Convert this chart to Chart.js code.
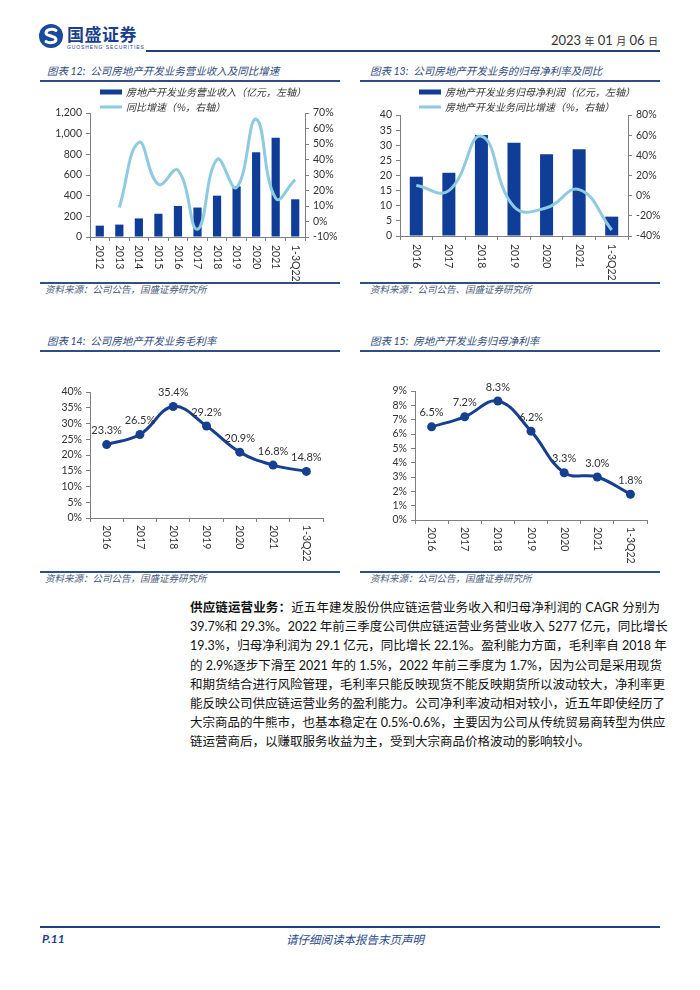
<!DOCTYPE html>
<html><head><meta charset="utf-8">
<script src="https://cdn.jsdelivr.net/npm/chart.js@4.4.1/dist/chart.umd.min.js"></script>
<style>
html,body{margin:0;padding:0;background:#fff;}
body{width:700px;height:990px;position:relative;overflow:hidden;font-family:Lato,"Noto Sans CJK SC",sans-serif;}
.abs{position:absolute;}
.title{font-style:italic;font-size:10.5px;color:#2e4a7d;white-space:nowrap;}
.src{font-style:italic;font-size:9.5px;color:#4a5a78;white-space:nowrap;}
.rule{height:1.5px;background:#2d4f86;}
canvas{position:absolute;}
.para{left:190px;width:470px;font-size:12.5px;color:#111;}
.para div{height:19.2px;line-height:19.2px;text-align:justify;text-align-last:justify;white-space:nowrap;}
.para div.last{text-align-last:left;}
</style></head>
<body>
<!-- header -->
<svg class="abs" style="left:38px;top:23px" width="26" height="26" viewBox="0 0 26 26">
  <circle cx="13" cy="13" r="12" fill="#1a4a9c"/>
  <path d="M18 7.5 C15 5.5 8 6 8 10 C8 13.5 18 12.5 18 16.5 C18 20 11 20.5 8 18.5" stroke="#fff" stroke-width="3" fill="none" stroke-linecap="round"/>
</svg>
<div class="abs" style="left:67px;top:24px;font-size:17px;font-weight:bold;color:#1a3f8c;letter-spacing:0.5px;font-family:'Noto Sans CJK SC';line-height:20px">国盛证券</div>
<div class="abs" style="left:67px;top:44px;font-size:5px;color:#1a3f8c;letter-spacing:0.9px;line-height:6px;font-family:'Liberation Sans'">GUOSHENG SECURITIES</div>
<div class="abs" style="right:42px;top:31px;font-size:13px;color:#333;line-height:18px;white-space:nowrap">2023 <span style="font-size:10px">年</span> 01 <span style="font-size:10px">月</span> 06 <span style="font-size:10px">日</span></div>
<div class="abs" style="left:146px;top:50px;width:514px;height:2px;background:#1f3f7f"></div>

<!-- chart titles / rules -->
<div class="abs title" style="left:47px;top:63px">图表 12:&nbsp; 公司房地产开发业务营业收入及同比增速</div>
<div class="abs rule" style="left:40px;top:80px;width:300px"></div>
<div class="abs title" style="left:370px;top:63px">图表 13:&nbsp; 公司房地产开发业务的归母净利率及同比</div>
<div class="abs rule" style="left:360px;top:80px;width:300px"></div>
<div class="abs rule" style="left:40px;top:282px;width:300px"></div>
<div class="abs src" style="left:45px;top:282px">资料来源：公司公告，国盛证券研究所</div>
<div class="abs rule" style="left:360px;top:282px;width:300px"></div>
<div class="abs src" style="left:370px;top:282px">资料来源：公司公告、国盛证券研究所</div>

<div class="abs title" style="left:47px;top:333px">图表 14:&nbsp; 公司房地产开发业务毛利率</div>
<div class="abs rule" style="left:40px;top:350px;width:300px"></div>
<div class="abs title" style="left:370px;top:333px">图表 15:&nbsp; 房地产开发业务归母净利率</div>
<div class="abs rule" style="left:360px;top:350px;width:300px"></div>
<div class="abs rule" style="left:40px;top:571px;width:300px"></div>
<div class="abs src" style="left:45px;top:571px">资料来源：公司公告，国盛证券研究所</div>
<div class="abs rule" style="left:360px;top:571px;width:300px"></div>
<div class="abs src" style="left:370px;top:571px">资料来源：公司公告，国盛证券研究所</div>

<canvas id="c12" width="300" height="196" style="left:40px;top:85px"></canvas>
<canvas id="c13" width="300" height="196" style="left:360px;top:85px"></canvas>
<canvas id="c14" width="300" height="205" style="left:40px;top:360px"></canvas>
<canvas id="c15" width="300" height="205" style="left:360px;top:360px"></canvas>

<!-- paragraph -->
<div class="abs para" style="top:598px">
<div><b>供应链运营业务：</b>近五年建发股份供应链运营业务收入和归母净利润的 CAGR 分别为</div>
<div>39.7%和 29.3%。2022 年前三季度公司供应链运营业务营业收入 5277 亿元，同比增长</div>
<div>19.3%，归母净利润为 29.1 亿元，同比增长 22.1%。盈利能力方面，毛利率自 2018 年</div>
<div>的 2.9%逐步下滑至 2021 年的 1.5%，2022 年前三季度为 1.7%，因为公司是采用现货</div>
<div>和期货结合进行风险管理，毛利率只能反映现货不能反映期货所以波动较大，净利率更</div>
<div>能反映公司供应链运营业务的盈利能力。公司净利率波动相对较小，近五年即使经历了</div>
<div>大宗商品的牛熊市，也基本稳定在 0.5%-0.6%，主要因为公司从传统贸易商转型为供应</div>
<div class="last">链运营商后，以赚取服务收益为主，受到大宗商品价格波动的影响较小。</div>
</div>

<!-- footer -->
<div class="abs" style="left:40px;top:926px;width:620px;height:2px;background:#1f3f7f"></div>
<div class="abs" style="left:42px;top:931px;font-size:12px;font-weight:bold;font-style:italic;color:#1f3f7f">P.11</div>
<div class="abs" style="left:0;width:710px;text-align:center;top:931px;font-size:11.5px;font-style:italic;color:#2a4a8a">请仔细阅读本报告末页声明</div>

<script>
// ---------- data ----------
const revCats = ['2012','2013','2014','2015','2016','2017','2018','2019','2020','2021','1-3Q22'];
const revValues = [110,120,180,225,300,285,400,490,820,960,365];
const revYoy = [null,9,51,24,33,-5,40,22,66,15,27];

const profitCats = ['2016','2017','2018','2019','2020','2021','1-3Q22'];
const profitValues = [19.6,20.9,33.4,30.8,27,28.7,6.4];
const profitYoy = [10,5,59,-11,-12,6,-34];

const marginCats = ['2016','2017','2018','2019','2020','2021','1-3Q22'];
const grossMargin = [23.3,26.5,35.4,29.2,20.9,16.8,14.8];
const netMargin = [6.5,7.2,8.3,6.2,3.3,3.0,1.8];

// tick labels (values)
const revLeftTicks = [0,200,400,600,800,1000,1200];
const revRightTicks = [-10,0,10,20,30,40,50,60,70];
const profitLeftTicks = [0,5,10,15,20,25,30,35,40];
const profitRightTicks = [-40,-20,0,20,40,60,80];
const grossTicks = [0,5,10,15,20,25,30,35,40];
const netTicks = [0,1,2,3,4,5,6,7,8,9];

// ---------- styles ----------
const DARK = '#0f3d97';
const LIGHT = '#8fcbe0';
const LINE = '#16408f';
const AXIS = '#7f7f7f';
const TXT = '#333';
const TICKFONT = {family:'Lato, "Noto Sans CJK SC", sans-serif', size:10.5};
const LEGFONT = 'italic 10px "Noto Sans CJK SC", sans-serif';

const vLabels = {
  id:'vLabels',
  afterDraw(chart, args, opts){
    const sc = chart.scales.x, ctx = chart.ctx;
    ctx.save();
    ctx.font = '10.5px Lato, "Noto Sans CJK SC", sans-serif';
    ctx.fillStyle = TXT; ctx.textAlign = 'left'; ctx.textBaseline = 'middle';
    chart.data.labels.forEach((lab, i) => {
      const x = sc.getPixelForTick(i);
      ctx.save(); ctx.translate(x, sc.top + (opts.gap||8)); ctx.rotate(Math.PI/2);
      ctx.fillText(lab, 0, 0); ctx.restore();
    });
    ctx.restore();
  }
};
const miniLegend = {
  id:'miniLegend',
  afterDraw(chart, args, opts){
    if (opts.x === undefined) return;
    const ctx = chart.ctx;
    ctx.save(); ctx.font = LEGFONT; ctx.textBaseline = 'middle'; ctx.textAlign='left';
    chart.data.datasets.forEach((ds, i) => {
      const y = opts.y + i*opts.gap;
      if (ds.type === 'bar') { ctx.fillStyle = ds.backgroundColor; ctx.fillRect(opts.x, y-2.5, 22, 5); }
      else { ctx.strokeStyle = ds.borderColor; ctx.lineWidth = 3; ctx.beginPath(); ctx.moveTo(opts.x, y); ctx.lineTo(opts.x+22, y); ctx.stroke(); }
      ctx.fillStyle = TXT; ctx.fillText(ds.label, opts.x+26, y);
    });
    ctx.restore();
  }
};
const pctLabels = {
  id:'pctLabels',
  afterDatasetsDraw(chart, args, opts){
    if (!opts.on) return;
    const ctx = chart.ctx, meta = chart.getDatasetMeta(0), data = chart.data.datasets[0].data;
    ctx.save(); ctx.font = '11px Lato, "Noto Sans CJK SC", sans-serif'; ctx.fillStyle = TXT;
    ctx.textAlign='center'; ctx.textBaseline='middle';
    meta.data.forEach((pt, i) => ctx.fillText(data[i].toFixed(1)+'%', pt.x, pt.y - 14));
    ctx.restore();
  }
};

function axisY(pos, tickArr, fmt, width){
  return {position:pos, min:tickArr[0], max:tickArr[tickArr.length-1],
    afterBuildTicks:s=>{ s.ticks = tickArr.map(v=>({value:v})); },
    ticks:{autoSkip:false, font:TICKFONT, color:TXT, padding:4, callback:fmt},
    grid:{drawOnChartArea:false, drawTicks:true, tickLength:4, color:AXIS},
    border:{display:true, color:AXIS, width:1},
    afterFit:s=>{s.width = width;}};
}
function axisX(h){
  return {offset:true, ticks:{display:false},
    grid:{offset:true, drawOnChartArea:false, drawTicks:true, tickLength:4, color:AXIS},
    border:{display:true, color:AXIS, width:1},
    afterFit:s=>{s.height = h;}};
}
const base = {responsive:false, animation:false, devicePixelRatio:1, events:[]};

// Chart 12
new Chart(document.getElementById('c12'), {
  type:'bar',
  data:{labels:revCats, datasets:[
    {type:'bar', label:'房地产开发业务营业收入（亿元，左轴）', data:revValues, backgroundColor:DARK,
     barPercentage:0.42, categoryPercentage:1, yAxisID:'y', order:2},
    {type:'line', label:'同比增速（%，右轴）', data:revYoy, borderColor:LIGHT, borderWidth:3,
     pointRadius:0, tension:0.45, yAxisID:'y1', order:1}
  ]},
  options:Object.assign({}, base, {
    layout:{padding:{top:28,left:0,right:0,bottom:0}},
    plugins:{legend:{display:false}, tooltip:{enabled:false},
      miniLegend:{x:60, y:7, gap:15}, vLabels:{gap:8}},
    scales:{
      x:axisX(44),
      y:axisY('left',revLeftTicks,v=>v.toLocaleString('en-US'),50),
      y1:axisY('right',revRightTicks,v=>v+'%',35)
    }
  }),
  plugins:[miniLegend, vLabels]
});

// Chart 13
new Chart(document.getElementById('c13'), {
  type:'bar',
  data:{labels:profitCats, datasets:[
    {type:'bar', label:'房地产开发业务归母净利润（亿元，左轴）', data:profitValues, backgroundColor:DARK,
     barPercentage:0.4, categoryPercentage:1, yAxisID:'y', order:2},
    {type:'line', label:'房地产开发业务同比增速（%，右轴）', data:profitYoy, borderColor:LIGHT, borderWidth:3,
     pointRadius:0, tension:0.45, yAxisID:'y1', order:1}
  ]},
  options:Object.assign({}, base, {
    layout:{padding:{top:30,left:0,right:0,bottom:0}},
    plugins:{legend:{display:false}, tooltip:{enabled:false},
      miniLegend:{x:59, y:7, gap:15}, vLabels:{gap:8}},
    scales:{
      x:axisX(45),
      y:axisY('left',profitLeftTicks,v=>String(v),40),
      y1:axisY('right',profitRightTicks,v=>v+'%',32)
    }
  }),
  plugins:[miniLegend, vLabels]
});

// Chart 14
new Chart(document.getElementById('c14'), {
  type:'line',
  data:{labels:marginCats, datasets:[
    {label:'毛利率', data:grossMargin, borderColor:LINE, backgroundColor:LINE, borderWidth:3,
     pointRadius:4.5, pointBackgroundColor:LINE, pointBorderWidth:0, tension:0.4}
  ]},
  options:Object.assign({}, base, {
    layout:{padding:{top:32,left:0,right:17,bottom:0}},
    plugins:{legend:{display:false}, tooltip:{enabled:false}, pctLabels:{on:true}, vLabels:{gap:7}},
    scales:{
      x:axisX(47),
      y:axisY('left',grossTicks,v=>v+'%',50)
    }
  }),
  plugins:[pctLabels, vLabels]
});

// Chart 15
new Chart(document.getElementById('c15'), {
  type:'line',
  data:{labels:marginCats, datasets:[
    {label:'归母净利率', data:netMargin, borderColor:LINE, backgroundColor:LINE, borderWidth:3,
     pointRadius:4.5, pointBackgroundColor:LINE, pointBorderWidth:0, tension:0.4}
  ]},
  options:Object.assign({}, base, {
    layout:{padding:{top:31,left:0,right:13,bottom:0}},
    plugins:{legend:{display:false}, tooltip:{enabled:false}, pctLabels:{on:true}, vLabels:{gap:7}},
    scales:{
      x:axisX(45),
      y:axisY('left',netTicks,v=>v+'%',55)
    }
  }),
  plugins:[pctLabels, vLabels]
});
</script>
</body></html>
